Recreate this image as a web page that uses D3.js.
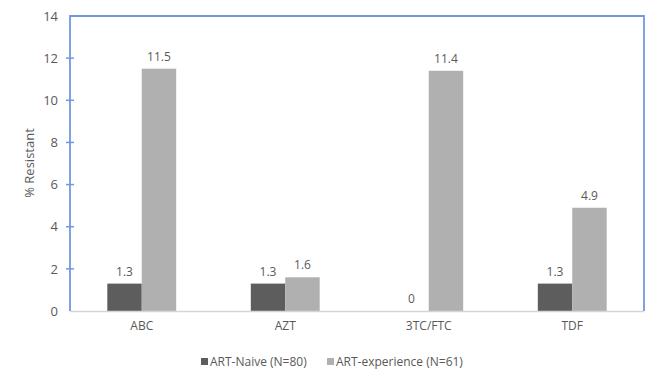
<!DOCTYPE html>
<html><head><meta charset="utf-8">
<script src="https://cdn.jsdelivr.net/npm/d3@7"></script>
<style>body{margin:0;background:#fff}svg{display:block}text{font-family:"Open Sans",sans-serif;fill:#595959}</style>
</head><body><svg id="c" width="661" height="382"></svg>
<script>
const categories = ["ABC","AZT","3TC/FTC","TDF"];
const seriesNames = ["ART-Naive (N=80)","ART-experience (N=61)"];
const naive = [1.3,1.3,0,1.3];
const experience = [11.5,1.6,11.4,4.9];
const yTicks = [0,2,4,6,8,10,12,14];
const colors = ["#5d5d5d","#b0b0b0"];

const svg = d3.select("#c");
const L=70,R=644,T=16,B=311;
const x = d3.scaleBand().domain(categories).range([L,R]).paddingInner(0.52).paddingOuter(0.26);
const x1 = d3.scaleBand().domain([0,1]).range([0,x.bandwidth()]);
const y = d3.scaleLinear().domain([0,14]).range([B,T]);
const series=[naive,experience];

// bars
series.forEach((vals,si)=>{
  svg.append("g").selectAll("rect").data(categories).join("rect")
    .attr("x",d=>x(d)+x1(si)).attr("width",x1.bandwidth())
    .attr("y",(d,i)=>y(vals[i])).attr("height",(d,i)=>B-y(vals[i]))
    .attr("fill",colors[si]);
  svg.append("g").selectAll("text").data(categories).join("text")
    .attr("x",d=>x(d)+x1(si)+x1.bandwidth()/2).attr("y",(d,i)=>y(vals[i])-8)
    .attr("text-anchor","middle").attr("font-size",12).text((d,i)=>vals[i]);
});

// frame
svg.append("line").attr("x1",L).attr("x2",R).attr("y1",B+0.5).attr("y2",B+0.5).attr("stroke","#d0d5de").attr("stroke-width",1.5);
svg.append("path").attr("d",`M${L},${B}V${T}H${R}V${B}`).attr("fill","none").attr("stroke","#7198e0").attr("stroke-width",1.8);

// y axis
const ya = svg.append("g").attr("transform",`translate(${L},0)`)
  .call(d3.axisLeft(y).tickValues(yTicks).tickSize(0).tickPadding(12));
ya.select(".domain").remove();
ya.selectAll("text").attr("font-size",13).style("font-family","'Open Sans',sans-serif").attr("fill","#595959");
svg.append("g").selectAll("line").data(yTicks.slice(1,-1)).join("line")
  .attr("x1",L-4).attr("x2",L+4).attr("y1",d=>y(d)).attr("y2",d=>y(d)).attr("stroke","#7198e0").attr("stroke-width",1.5);

// x axis labels
const xa = svg.append("g").attr("transform",`translate(0,${B})`).call(d3.axisBottom(x).tickSize(0).tickPadding(10));
xa.select(".domain").remove();
xa.selectAll("text").attr("font-size",12).style("font-family","'Open Sans',sans-serif").attr("fill","#595959");

// y title
svg.append("text").attr("transform","translate(34,163) rotate(-90)").attr("text-anchor","middle").attr("font-size",13).text("% Resistant");

// legend
const lx=[201,327];
seriesNames.forEach((n,i)=>{
  svg.append("rect").attr("x",lx[i]).attr("y",358).attr("width",7).attr("height",7).attr("fill",colors[i]);
  svg.append("text").attr("x",lx[i]+9).attr("y",366).attr("font-size",12).text(n);
});
</script></body></html>
